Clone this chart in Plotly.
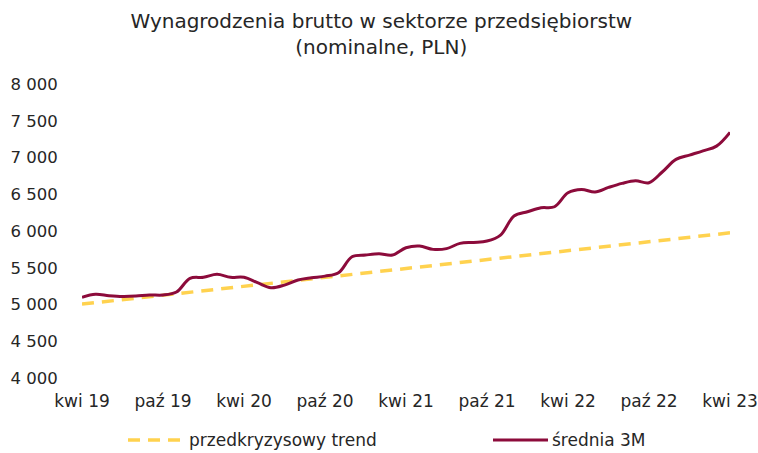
import plotly.graph_objects as go

# Month categories (Apr 2019 - Apr 2023)
month_names = ["sty", "lut", "mar", "kwi", "maj", "cze", "lip", "sie", "wrz", "paź", "lis", "gru"]
months = []
for k in range(49):
    m = (3 + k) % 12
    y = 19 + (3 + k) // 12
    months.append(f"{month_names[m]} {y}")

avg_3m = [5098, 5138, 5120, 5110, 5115, 5130, 5129, 5170, 5356, 5370,
          5410, 5370, 5370, 5297, 5228, 5264, 5333, 5363, 5386, 5432,
          5650, 5673, 5690, 5673, 5772, 5795, 5750, 5760, 5832, 5845,
          5863, 5945, 6203, 6262, 6316, 6330, 6520, 6566, 6530, 6593,
          6648, 6684, 6657, 6806, 6974, 7033, 7091, 7155, 7342]

trend_x = ["kwi 19", "kwi 23"]
trend_values = [5005, 5975]

tick_labels = ["kwi 19", "paź 19", "kwi 20", "paź 20", "kwi 21", "paź 21", "kwi 22", "paź 22", "kwi 23"]
y_ticks = [4000, 4500, 5000, 5500, 6000, 6500, 7000, 7500, 8000]

RED = "#8C0B3B"
YELLOW = "#FFD24F"
FONT = "DejaVu Sans"
TXT = "#262626"

fig = go.Figure()
fig.add_trace(go.Scatter(x=trend_x, y=trend_values, mode="lines",
                         line=dict(color=YELLOW, width=3.5, dash="12px,8px"),
                         name="przedkryzysowy trend", showlegend=False))
fig.add_trace(go.Scatter(x=months, y=avg_3m, mode="lines",
                         line=dict(color=RED, width=3, shape="spline", smoothing=1.0),
                         name="średnia 3M", showlegend=False))

L, R, T, B = 82, 28, 84, 75
W, H = 758, 453
pw, ph = W - L - R, H - T - B

def px_x(px):
    return (px - L) / pw

def px_y(py):
    return (H - B - py) / ph

# Legend drawn below plot
leg_y = px_y(440)
shapes = [
    dict(type="line", xref="paper", yref="paper", x0=px_x(128), x1=px_x(186), y0=leg_y, y1=leg_y,
         line=dict(color=YELLOW, width=3.5, dash="12px,8px")),
    dict(type="line", xref="paper", yref="paper", x0=px_x(493), x1=px_x(548), y0=leg_y, y1=leg_y,
         line=dict(color=RED, width=3)),
]
annotations = [
    dict(text="przedkryzysowy trend", xref="paper", yref="paper", x=px_x(187), y=leg_y,
         xanchor="left", yanchor="middle", showarrow=False, font=dict(family=FONT, size=17, color=TXT)),
    dict(text="średnia 3M", xref="paper", yref="paper", x=px_x(550), y=leg_y,
         xanchor="left", yanchor="middle", showarrow=False, font=dict(family=FONT, size=17, color=TXT)),
]

fig.update_layout(
    width=W, height=H,
    margin=dict(l=L, r=R, t=T, b=B, autoexpand=False),
    paper_bgcolor="white", plot_bgcolor="white",
    separators=", ",
    font=dict(family=FONT, size=16, color=TXT),
    title=dict(text="Wynagrodzenia brutto w sektorze przedsiębiorstw<br>(nominalne, PLN)",
               x=0.503, xanchor="center", yref="container", y=1 - 28 / H, yanchor="middle",
               font=dict(family=FONT, size=20, color=TXT)),
    showlegend=False,
    shapes=shapes,
    annotations=annotations,
    xaxis=dict(type="category", categoryorder="array", categoryarray=months,
               range=[0, 48], tickmode="array", tickvals=tick_labels, ticktext=tick_labels,
               showgrid=False, zeroline=False, showline=False, automargin=False,
               ticks="outside", ticklen=8, tickcolor="rgba(0,0,0,0)",
               tickfont=dict(family=FONT, size=17, color=TXT)),
    yaxis=dict(range=[4000, 8000], tickmode="array", tickvals=y_ticks, tickformat=",d",
               showgrid=False, zeroline=False, showline=False, automargin=False,
               ticks="outside", ticklen=20, tickcolor="rgba(0,0,0,0)",
               tickfont=dict(family=FONT, size=16.5, color=TXT)),
)

fig.write_html("out.html", config={"displayModeBar": False},
               post_script="document.body.style.margin='0';document.body.style.overflow='hidden';")
